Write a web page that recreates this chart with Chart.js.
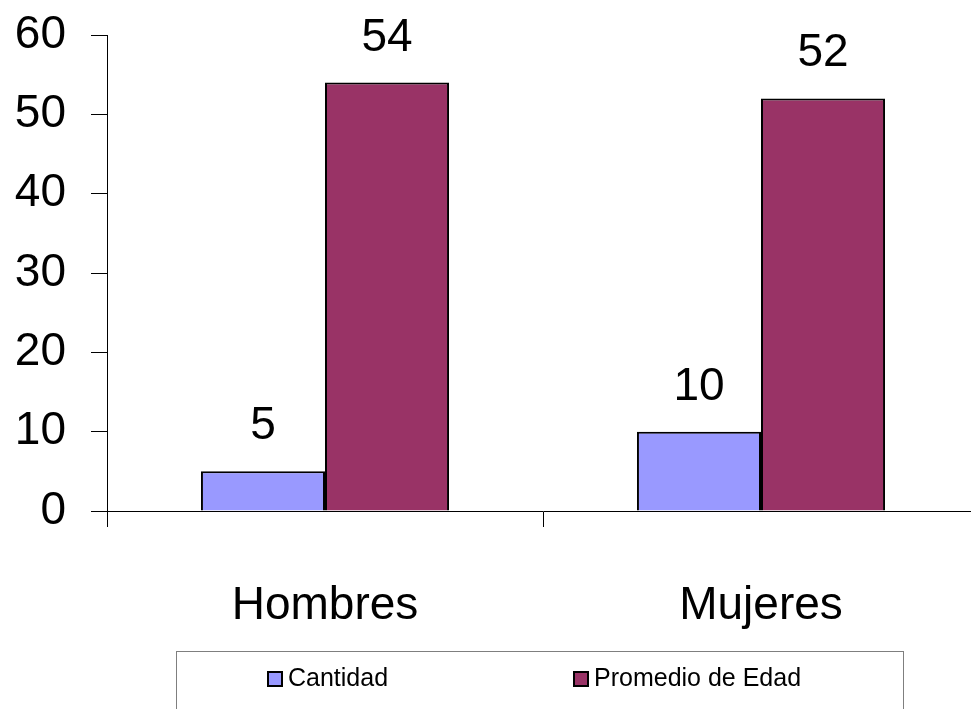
<!DOCTYPE html>
<html>
<head>
<meta charset="utf-8">
<script src="https://cdn.jsdelivr.net/npm/chart.js@4"></script>
<style>
  html, body { margin: 0; padding: 0; background: #fff; overflow: hidden; }
  #wrap { position: relative; width: 971px; height: 709px; overflow: hidden; }
  #chart { position: absolute; left: 0; top: 0; }
  .leyenda { position: absolute; left: 176px; top: 651px; width: 728px; height: 80px;
             border: 1px solid #7f7f7f; box-sizing: border-box; }
  .item { position: absolute; top: 10px; font: 25px "Liberation Sans", Arial, sans-serif;
          color: #000; line-height: 30px; white-space: nowrap; }
  .item i { display: inline-block; width: 16px; height: 16px; box-sizing: border-box;
            border: 2px solid #000; vertical-align: -1px; margin-right: 5px; }
</style>
</head>
<body>
<div id="wrap">
  <canvas id="chart" width="1000" height="709"></canvas>
  <div class="leyenda">
    <div class="item" style="left:90px"><i style="background:#9999ff"></i>Cantidad</div>
    <div class="item" style="left:396px"><i style="background:#993366"></i>Promedio de Edad</div>
  </div>
</div>
<script>
// Datos
const categorias = ['Hombres', 'Mujeres'];
const cantidad = [5, 10];
const promedioEdad = [54, 52];
const ejeMin = 0;
const ejeMax = 60;
const ejePaso = 10;

const fuente = '"Liberation Sans", Arial, sans-serif';

// Valores encima de cada barra
const etiquetasValores = {
  id: 'etiquetasValores',
  afterDatasetsDraw(chart) {
    const ctx = chart.ctx;
    ctx.save();
    ctx.font = '46px ' + fuente;
    ctx.fillStyle = '#000';
    ctx.textAlign = 'center';
    ctx.textBaseline = 'alphabetic';
    chart.data.datasets.forEach((ds, i) => {
      const meta = chart.getDatasetMeta(i);
      meta.data.forEach((bar, j) => {
        ctx.fillText(String(ds.data[j]), bar.x, bar.y - 32);
      });
    });
    ctx.restore();
  }
};

const chart = new Chart(document.getElementById('chart'), {
  type: 'bar',
  data: {
    labels: categorias,
    datasets: [
      {
        label: 'Cantidad',
        data: cantidad,
        backgroundColor: '#9999ff',
        borderColor: '#000',
        borderWidth: 2,
        borderSkipped: 'bottom'
      },
      {
        label: 'Promedio de Edad',
        data: promedioEdad,
        backgroundColor: '#993366',
        borderColor: '#000',
        borderWidth: 2,
        borderSkipped: 'bottom'
      }
    ]
  },
  options: {
    responsive: false,
    animation: false,
    devicePixelRatio: 1,
    categoryPercentage: 0.569,
    barPercentage: 1,
    layout: { padding: { top: 35, right: 21, bottom: 0, left: 0 } },
    plugins: {
      legend: { display: false },
      tooltip: { enabled: false }
    },
    scales: {
      x: {
        afterFit: s => { s.height = 198; s.paddingLeft = 0; s.paddingRight = 0; },
        grid: { offset: true, drawOnChartArea: false, tickLength: 16, color: '#000' },
        border: { display: true, color: '#000', width: 1 },
        ticks: { color: '#000', padding: 52, font: { family: fuente, size: 46 } }
      },
      y: {
        min: ejeMin,
        max: ejeMax,
        afterFit: s => { s.width = 107; s.paddingTop = 0; s.paddingBottom = 0; },
        grid: { drawOnChartArea: false, tickLength: 16, color: '#000' },
        border: { display: true, color: '#000', width: 1 },
        ticks: { stepSize: ejePaso, color: '#000', padding: 25, font: { family: fuente, size: 46 } }
      }
    }
  },
  plugins: [etiquetasValores]
});
</script>
</body>
</html>
